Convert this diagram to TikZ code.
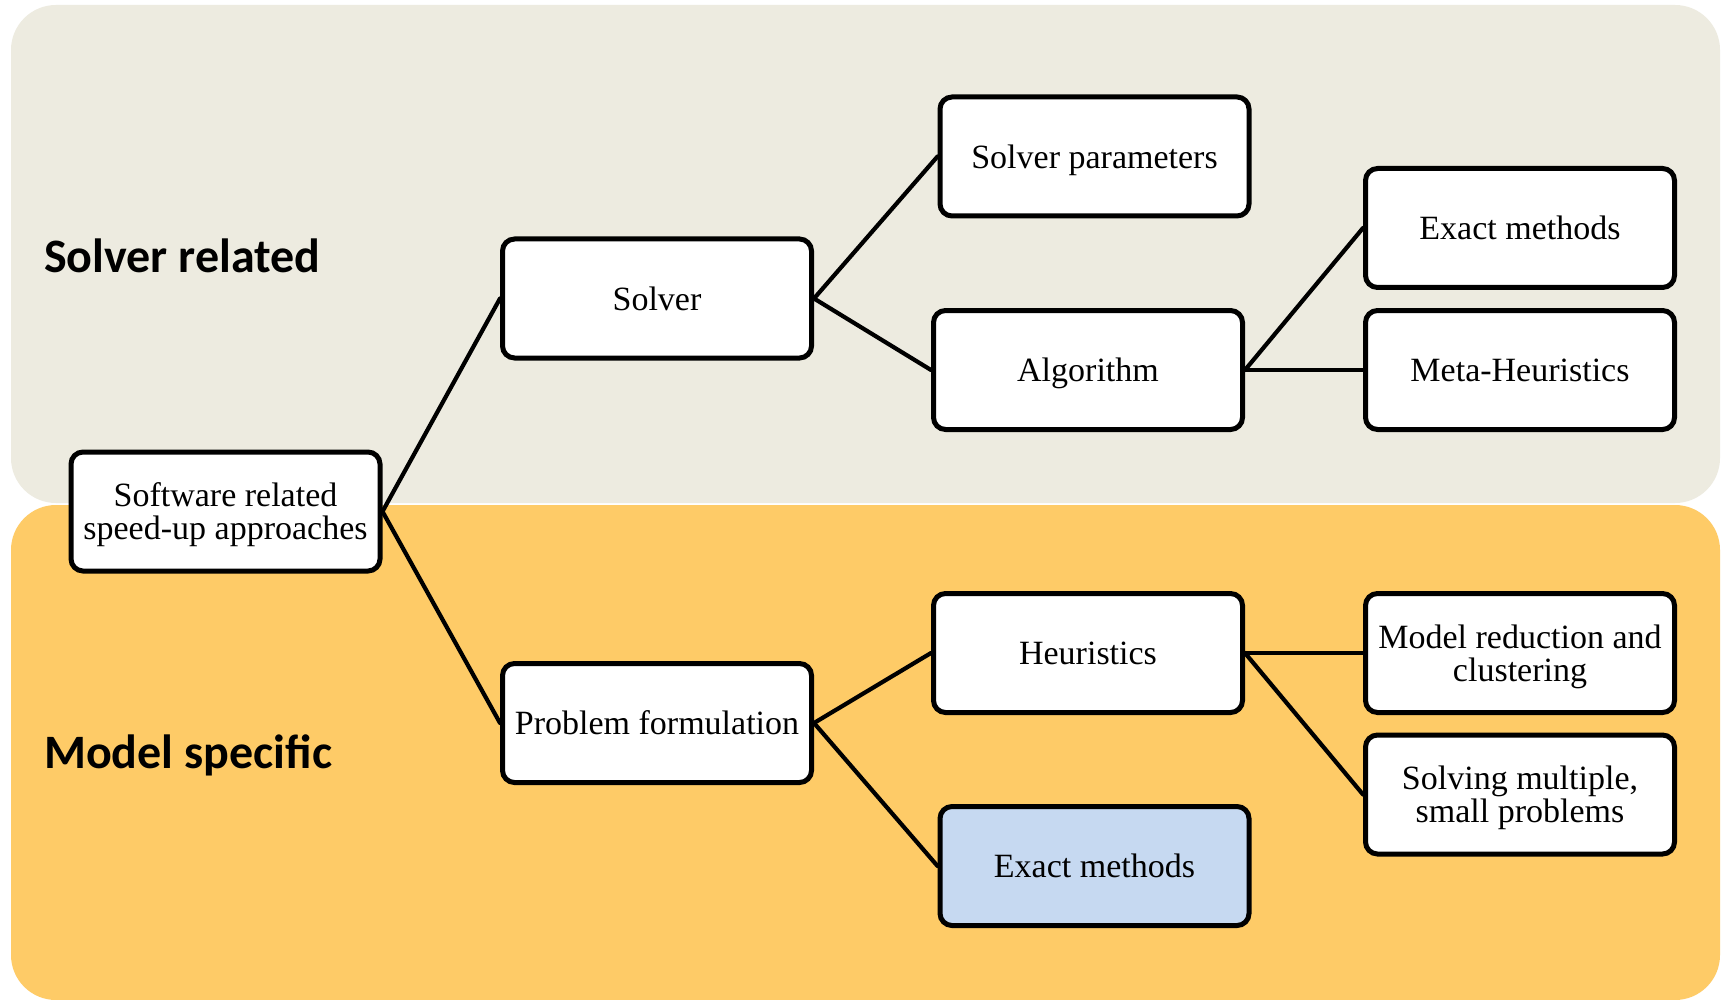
\documentclass[tikz,border=0pt]{standalone}
\usepackage{fontspec}
\setmainfont{Liberation Serif}
\newfontfamily\headfont{Carlito}
\definecolor{solverbg}{HTML}{EDEBE0}
\definecolor{modelbg}{HTML}{FECB67}
\definecolor{exactblue}{HTML}{C6D9F1}
\begin{document}
\begin{tikzpicture}[x=1pt,y=-1pt,
  box/.style={draw=black, line width=5pt, rounded corners=12pt, fill=white,
    minimum width=309pt, minimum height=119pt, align=center, inner sep=0pt,
    text depth=0pt, font=\fontsize{34}{33}\selectfont},
  link/.style={line width=4.2pt, line cap=round},
  head/.style={anchor=west, inner sep=0pt,
    font=\headfont\bfseries\fontsize{48}{50}\selectfont}]

% canvas
\fill[white] (0,0) rectangle (1721,1000);
\useasboundingbox (0,0) rectangle (1721,1000);

% the two category panels
\fill[solverbg, rounded corners=45pt] (11,5) rectangle (1720,503);
\fill[modelbg, rounded corners=45pt] (11,505) rectangle (1720,1000);

\node[head] (hsolver) at (44,256) {Solver related};
\node[head] (hmodel) at (44,755) {Model specific};

% tree
\node[box] (root) at (225.5,511.5) {Software related\\speed-up approaches};
\node[box] (solver) at (657,298.5) {Solver};
\node[box] (problem) at (657,723) {Problem formulation};
\node[box] (params) at (1094.5,156.5) {Solver parameters};
\node[box] (algo) at (1088,370) {Algorithm};
\node[box] (exacttop) at (1520,228) {Exact methods};
\node[box] (meta) at (1520,370) {Meta-Heuristics};
\node[box] (heur) at (1088,653) {Heuristics};
\node[box] (reduce) at (1520,653) {Model reduction and\\clustering};
\node[box] (multi) at (1520,794.5) {Solving multiple,\\small problems};
\node[box, fill=exactblue] (exactlow) at (1094.5,866) {Exact methods};

% connectors
\draw[link] (root.east) -- (solver.west);
\draw[link] (root.east) -- (problem.west);
\draw[link] (solver.east) -- (params.west);
\draw[link] (solver.east) -- (algo.west);
\draw[link] (algo.east) -- (exacttop.west);
\draw[link] (algo.east) -- (meta.west);
\draw[link] (problem.east) -- (heur.west);
\draw[link] (problem.east) -- (exactlow.west);
\draw[link] (heur.east) -- (reduce.west);
\draw[link] (heur.east) -- (multi.west);
\end{tikzpicture}
\end{document}
